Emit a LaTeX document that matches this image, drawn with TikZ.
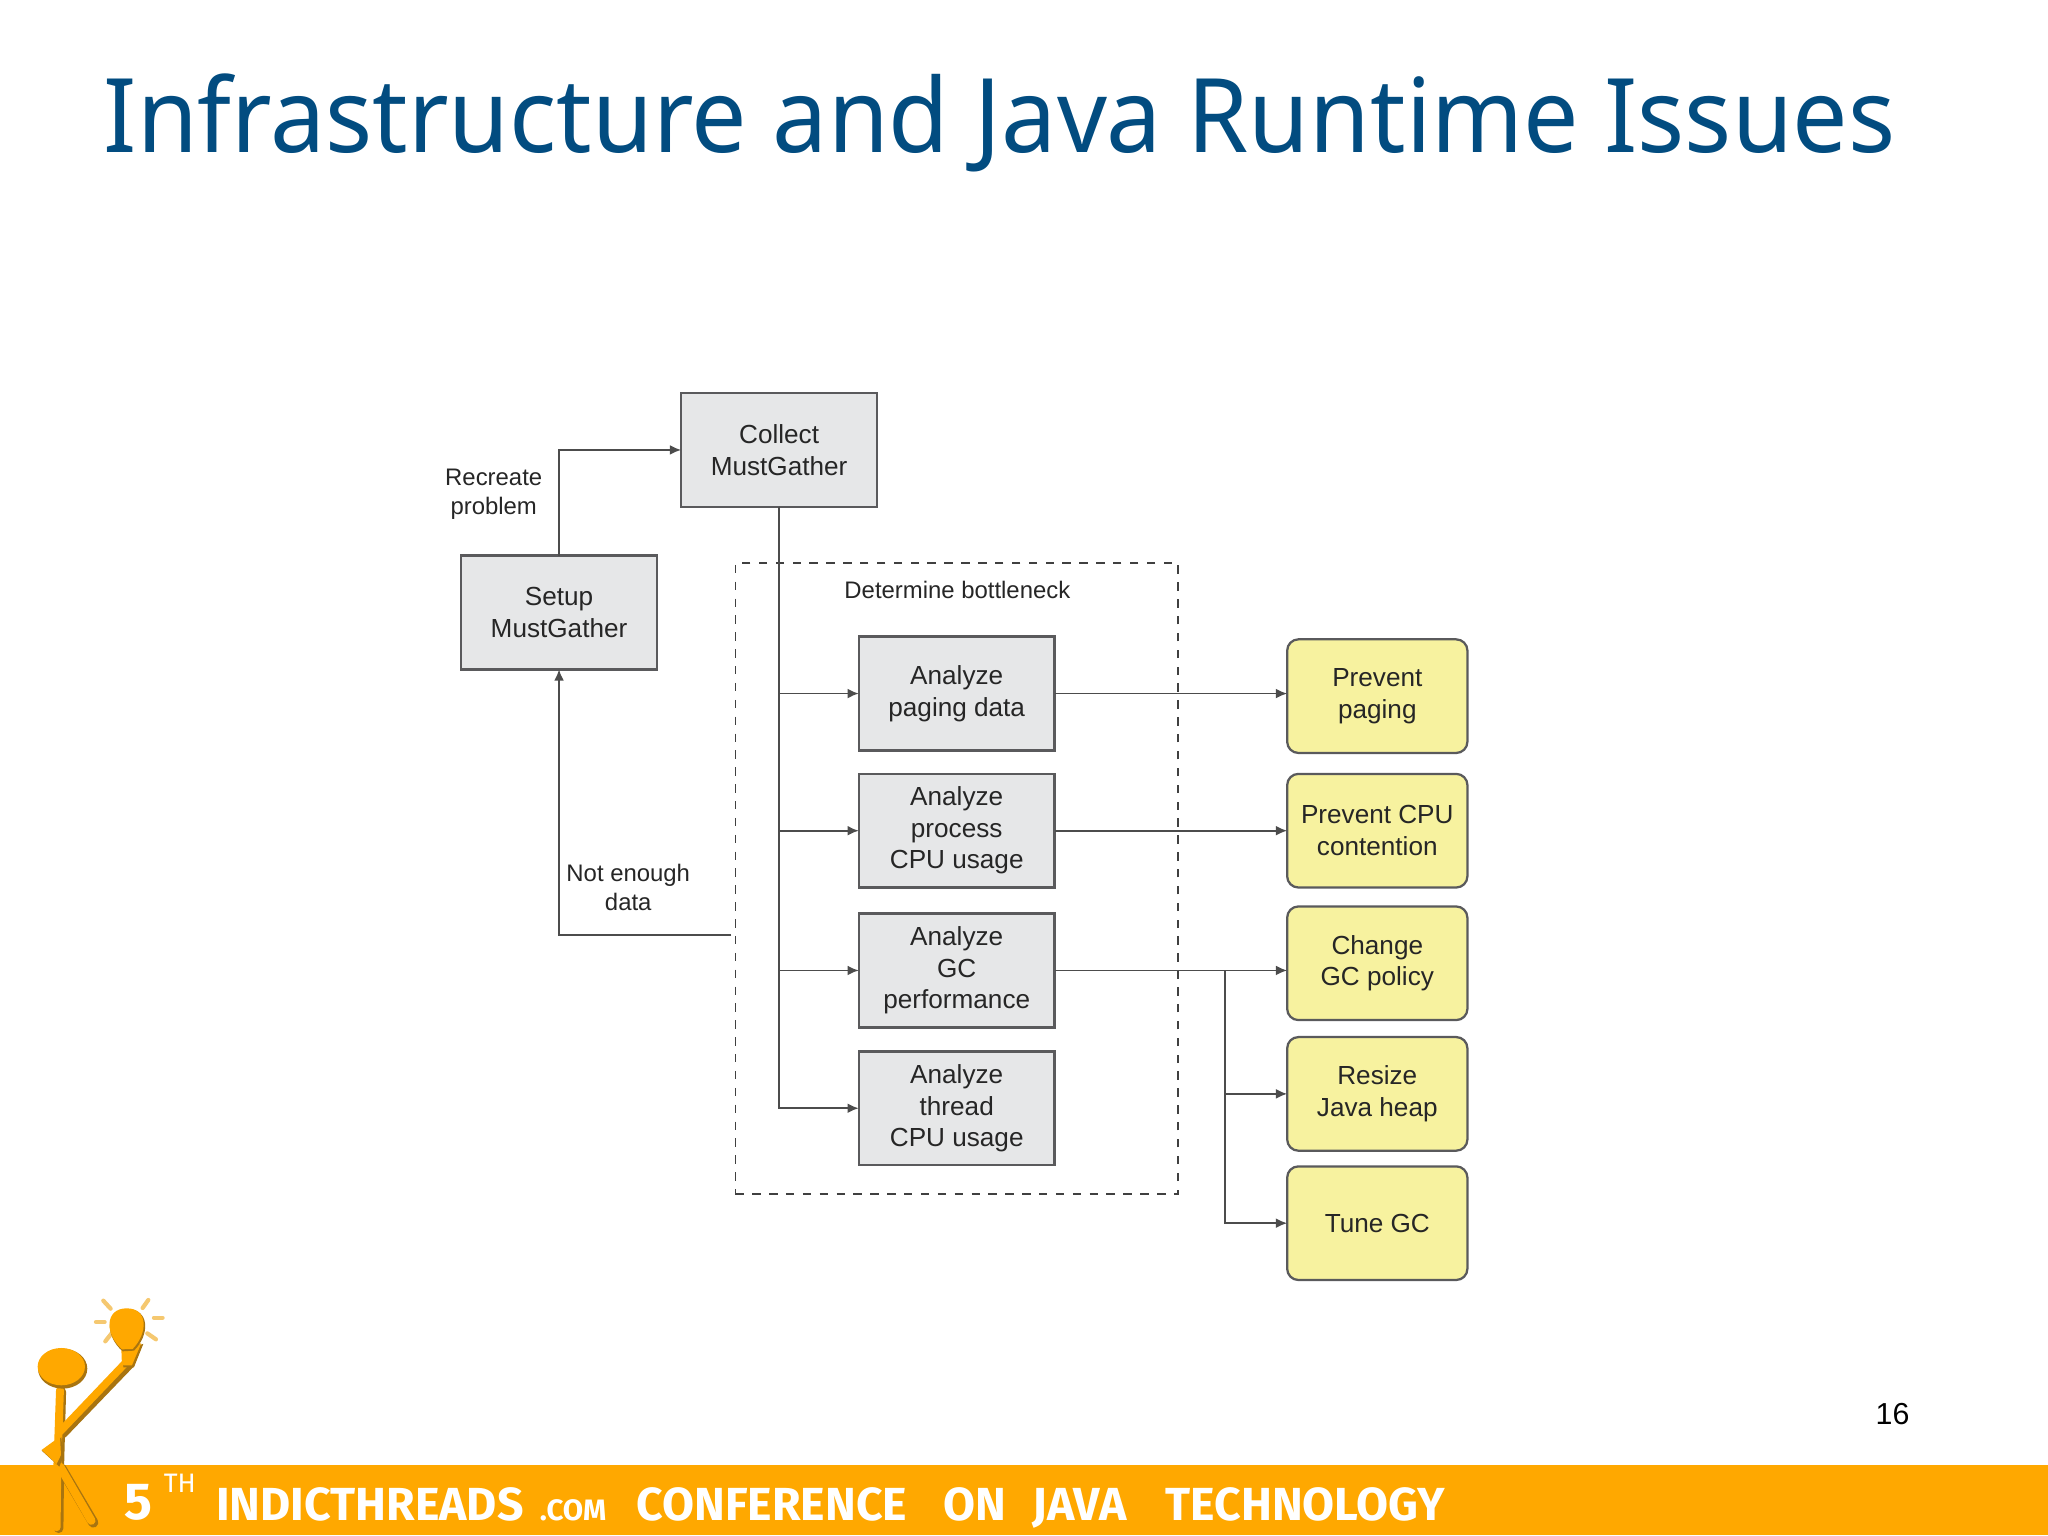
\documentclass[tikz,border=0pt]{standalone}
\usepackage{fontspec}
\setmainfont{Liberation Sans}
\newfontfamily\titlefont[FakeStretch=0.956]{Noto Sans}
\newfontfamily\bannerfont{Fira Sans}
\usetikzlibrary{positioning,arrows.meta,calc}
\definecolor{titleblue}{HTML}{024C80}
\definecolor{bannerorange}{HTML}{FFA800}
\definecolor{boxgray}{HTML}{E6E7E8}
\definecolor{edgegray}{HTML}{5A5A5C}
\definecolor{noteyellow}{HTML}{F7F29F}
\definecolor{shadeorange}{HTML}{A87410}
\definecolor{rayorange}{HTML}{F5C870}
\def\unit{0.016327cm}
\tikzset{
  stepbox/.style={draw=edgegray, line width=0.9pt, fill=boxgray, minimum width=150*\unit, minimum height=87*\unit, align=center, inner sep=0pt, outer sep=0pt, font=\fontsize{9.3}{11.2}\selectfont, text=black!85},
  fixbox/.style={draw=edgegray, line width=0.8pt, fill=noteyellow, rounded corners=4pt, minimum width=138*\unit, minimum height=87*\unit, align=center, inner sep=0pt, outer sep=0pt, font=\fontsize{9.3}{11.2}\selectfont, text=black!85},
  note/.style={align=center, inner sep=0pt, font=\fontsize{8.5}{10.2}\selectfont, text=black!85},
  flow/.style={draw=black!70, line width=0.6pt, -{Latex[length=4pt,width=3.5pt]}},
  plain/.style={draw=black!70, line width=0.6pt},
  bannerword/.style={anchor=base west, inner sep=0pt, text=white, font=\bannerfont\bfseries\fontsize{16.5}{18}\selectfont},
}
\begin{document}
\begin{tikzpicture}[x=\unit, y=-\unit]
\useasboundingbox (0,0) rectangle (1568,1175.25);

% Title and page number
\node[anchor=base west, inner sep=0pt, text=titleblue, font=\titlefont\fontsize{36.6}{40}\selectfont] (title) at (79,117) {Infrastructure and Java Runtime Issues};
\node[inner sep=0pt, font=\fontsize{10.8}{12}\selectfont] (pagenum) at (1449,1083) {16};

% Footer band
\fill[bannerorange] (0,1122) rectangle (1568,1175.25);
\node[bannerword, font=\bannerfont\bfseries\fontsize{18.5}{20}\selectfont] (five) at (95,1163) {5};
\node[bannerword, font=\bannerfont\fontsize{9.5}{11}\selectfont] (th) at (125,1143) {TH};
\node[bannerword] (indic) at (165,1164) {INDICTHREADS};
\node[bannerword, font=\bannerfont\bfseries\fontsize{10.5}{11}\selectfont] (dotcom) at (413,1164) {.COM};
\node[bannerword] (conf) at (487,1164) {CONFERENCE};
\node[bannerword] (on) at (722,1164) {ON};
\node[bannerword] (java) at (790,1164) {JAVA};
\node[bannerword] (tech) at (892,1164) {TECHNOLOGY};

% Figure holding the bulb
\begin{scope}[shift={(0,980)}, x=0.004167cm, y=-0.004167cm, line cap=round, line join=round]
\foreach \xa/\ya/\xb/\yb in {310/62/332/86, 445/60/428/84, 462/113/488/113, 288/126/314/126, 442/160/468/178, 335/160/316/184}
  \draw[rayorange, line width=1.5pt] (\xa,\ya) -- (\xb,\yb);
% shadow strokes
\draw[shadeorange, line width=3.4pt] (184,335) -- (178,560) -- (176,745);
\draw[shadeorange, line width=3.6pt] (184,565) -- (280,728);
\draw[shadeorange, line width=3.2pt] (188,462) -- (392,250);
% body, arm, legs
\draw[bannerorange, line width=2.8pt] (180,330) -- (172,560) -- (170,742);
\draw[bannerorange, line width=3pt] (180,560) -- (274,722);
\draw[bannerorange, line width=2.7pt] (180,455) -- (385,240);
\fill[shadeorange] (125,512) -- (184,472) -- (190,530) -- (178,560) -- cycle;
\fill[bannerorange] (125,510) -- (180,470) -- (183,525) -- (170,552) -- cycle;
\fill[shadeorange] (368,205) -- (430,192) -- (402,262) -- (370,262) -- cycle;
\fill[bannerorange] (364,203) -- (424,190) -- (396,256) -- (366,256) -- cycle;
% head and bulb
\fill[shadeorange] (188,266) ellipse [x radius=74, y radius=60];
\fill[bannerorange] (184,260) ellipse [x radius=71, y radius=56];
\fill[shadeorange] (382,87) .. controls (450,87) and (450,165) .. (402,212) -- (368,214) .. controls (312,165) and (318,87) .. (382,87) -- cycle;
\fill[bannerorange] (380,85) .. controls (446,85) and (444,160) .. (398,207) -- (366,208) .. controls (312,160) and (316,85) .. (380,85) -- cycle;
\end{scope}

% Setup and collect
\node[stepbox] (setup) at (428,469) {Setup\\MustGather};
\node[stepbox] (collect) at (596.5,344.5) {Collect\\MustGather};
\node[note] (recreate) at (378,378.5) {Recreate\\problem};
\draw[flow] (setup.north) |- (collect.west);

% Bottleneck region and the four analysis steps
\node[draw=black!75, line width=0.6pt, dashed, minimum width=339*\unit, minimum height=483*\unit, inner sep=0pt] (region) at (732.5,672.5) {};
\node[note] (regionlabel) at (733,452) {Determine bottleneck};
\node[stepbox] (paging) at (732.5,531) {Analyze\\paging data};
\node[stepbox] (process) at (732.5,636) {Analyze\\process\\CPU usage};
\node[stepbox] (gc) at (732.5,743) {Analyze\\GC\\performance};
\node[stepbox] (thread) at (732.5,848.5) {Analyze\\thread\\CPU usage};

% Remedies
\node[fixbox] (noswap) at (1054.5,533) {Prevent\\paging};
\node[fixbox] (nocontend) at (1054.5,636) {Prevent CPU\\contention};
\node[fixbox] (policy) at (1054.5,737.5) {Change\\GC policy};
\node[fixbox] (heap) at (1054.5,837.5) {Resize\\Java heap};
\node[fixbox] (tune) at (1054.5,936.5) {Tune GC};

% Collect to analysis steps
\draw[plain] (collect.south) -- (collect.south |- thread.west);
\foreach \step in {paging,process,gc,thread}
  \draw[flow] (collect.south) |- (\step.west);

% Analysis steps to remedies
\draw[flow] (paging.east) -- (paging.east -| noswap.west);
\draw[flow] (process.east) -- (process.east -| nocontend.west);
\draw[flow] (gc.east) -- (gc.east -| policy.west);
\coordinate (fork) at (938,743);
\draw[flow] (fork) |- (heap.west);
\draw[flow] (fork) |- (tune.west);

% Back to setup
\coordinate (retry) at (560,716);
\node[note] (notenough) at (481,679.5) {Not enough\\data};
\draw[flow] (retry) -| (setup.south);

\end{tikzpicture}
\end{document}
